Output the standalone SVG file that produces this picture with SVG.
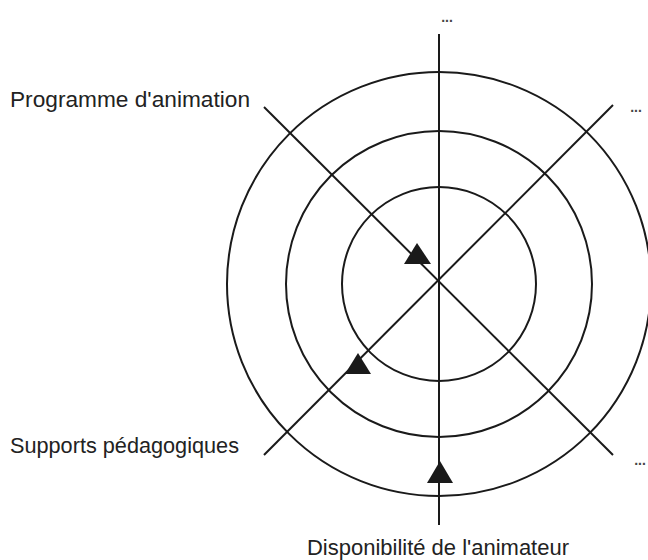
<svg xmlns="http://www.w3.org/2000/svg" width="648" height="560" viewBox="0 0 648 560">
<style>
.c{fill:none;stroke:#1a1a1a;stroke-width:2}
.l{stroke:#1a1a1a;stroke-width:2;fill:none}
.t{fill:#1a1a1a;stroke:none}
text{font-family:"Liberation Sans",Arial,sans-serif;font-size:22px;fill:#222}
.d{font-size:14px;font-weight:bold;fill:#444}
</style>
<rect width="648" height="560" fill="#fff"/>
<g id="rings">
<circle class="c" cx="439" cy="284" r="212"/>
<circle class="c" cx="439" cy="284" r="153"/>
<circle class="c" cx="439" cy="284" r="97"/>
</g>
<g id="connectors">
<line class="l" x1="439" y1="34" x2="439" y2="525"/>
<line class="l" x1="264" y1="107" x2="613" y2="455"/>
<line class="l" x1="264" y1="455" x2="613" y2="105"/>
</g>
<g id="arrows">
<polygon class="t" points="404,264 431,264 417,243"/>
<polygon class="t" points="345,374 371,374 358,353"/>
<polygon class="t" points="427,483 453,483 440,461"/>
</g>
<g id="label-programme"><text x="10" y="107" textLength="240" lengthAdjust="spacingAndGlyphs">Programme d'animation</text></g>
<g id="label-supports"><text x="10" y="453" textLength="229" lengthAdjust="spacingAndGlyphs">Supports pédagogiques</text></g>
<g id="label-disponibilite"><text x="307" y="555" textLength="262" lengthAdjust="spacingAndGlyphs">Disponibilité de l'animateur</text></g>
<g id="dots-top"><text class="d" x="447" y="22" text-anchor="middle">...</text></g>
<g id="dots-right"><text class="d" x="636" y="112" text-anchor="middle">...</text></g>
<g id="dots-bottom"><text class="d" x="640" y="465" text-anchor="middle">...</text></g>
</svg>
